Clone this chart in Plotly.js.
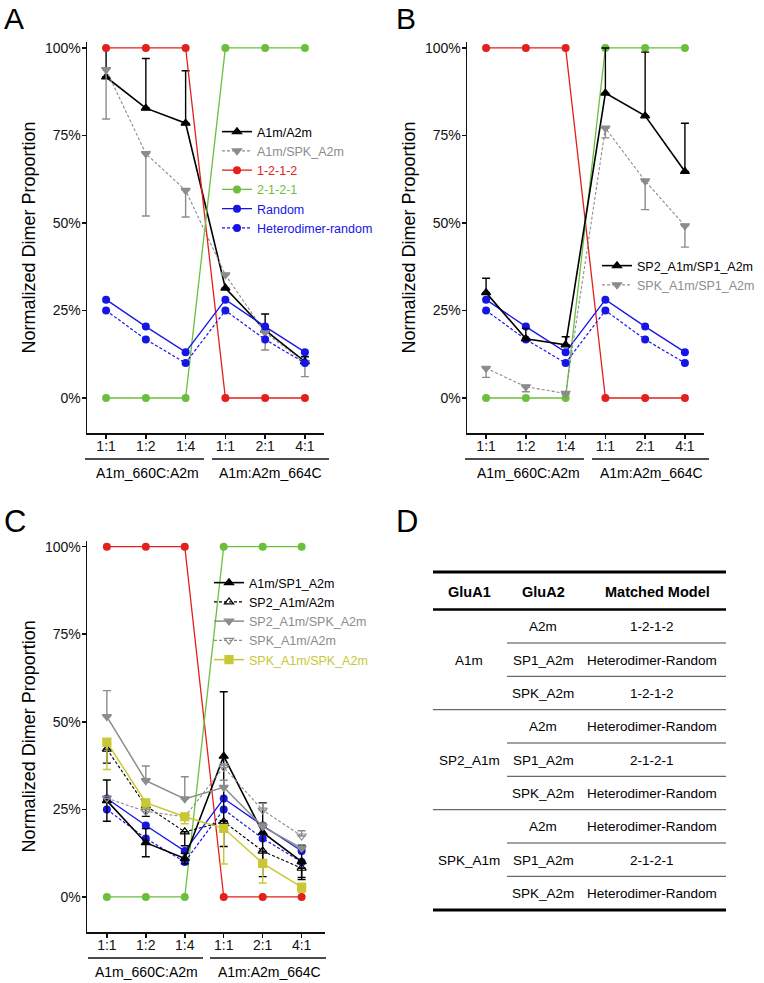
<!DOCTYPE html>
<html>
<head>
<meta charset="utf-8">
<script src="https://cdn.plot.ly/plotly-3.0.1.min.js"></script>
<style>html,body{margin:0;padding:0;background:#fff;}#chart{width:764px;height:983px;}</style>
</head>
<body>
<div id="chart"></div>
<script>
// ---------- data ----------
const categories = ['1:1', '1:2', '1:4', '1:1', '2:1', '4:1'];
const groupLabels = ['A1m_660C:A2m', 'A1m:A2m_664C'];
const yTickVals = [0, 25, 50, 75, 100];
const yTickText = ['0%', '25%', '50%', '75%', '100%'];

// model predictions
const model1212 = [100, 100, 100, 0, 0, 0];
const model2121 = [0, 0, 0, 100, 100, 100];
const modelRandom = [28.1, 20.4, 13.1, 28.1, 20.4, 13.1];
const modelHeteroRandom = [25, 16.7, 10, 25, 16.7, 10];

// panel A
const aA1mA2m = [91.7, 82.8, 78.5, 31.4, 19.4, 10.4];
const aA1mA2mErrUp = [8.3, 14.2, 15.0, 0, 4.6, 1.4];
const aA1mSpkA2m = [93.8, 69.8, 59.3, 35.2, 18.7, 10.1];
const aA1mSpkA2mErrDown = [14.1, 17.8, 7.6, 0, 5.0, 4.0];

// panel B
const bSp2Sp1 = [30.1, 16.9, 15.2, 87.1, 80.6, 64.7];
const bSp2Sp1ErrUp = [4.1, 3.0, 2.3, 12.9, 18.2, 13.8];
const bSpkSp1 = [8.5, 3.2, 1.3, 77.1, 62.0, 49.2];
const bSpkSp1ErrDown = [2.6, 1.4, 0.3, 2.8, 8.2, 6.1];

// panel C
const cA1mSp1 = [27.5, 15.5, 11.0, 40.2, 18.4, 10.1];
const cA1mSp1Err = [5.9, 4.0, 1.5, 18.4, 8.5, 4.5];
const cSp2A2m = [42.2, 26.0, 18.6, 21.5, 13.1, 8.2];
const cSp2A2mErrDown = [4.0, 3.0, 4.0, 7.1, 7.3, 3.2];
const cSp2Spk = [51.5, 33.2, 28.0, 31.3, 20.1, 13.9];
const cSp2SpkErrUp = [7.4, 4.2, 6.3, 2.0, 1.0, 1.0];
const cSpkA2m = [28.2, 24.4, 22.9, 37.0, 24.8, 17.4];
const cSpkA2mErrUp = [0, 0, 0, 1.0, 2.0, 1.5];
const cSpkSpk = [44.2, 26.9, 22.9, 19.6, 9.6, 2.8];
const cSpkSpkErrDown = [7.8, 1.5, 2.0, 10.2, 5.6, 1.5];

// table D
const tableGluA1 = ['A1m', 'SP2_A1m', 'SPK_A1m'];
const tableGluA2 = ['A2m', 'SP1_A2m', 'SPK_A2m', 'A2m', 'SP1_A2m', 'SPK_A2m', 'A2m', 'SP1_A2m', 'SPK_A2m'];
const tableModel = ['1-2-1-2', 'Heterodimer-Random', '1-2-1-2', 'Heterodimer-Random', '2-1-2-1',
                    'Heterodimer-Random', 'Heterodimer-Random', '2-1-2-1', 'Heterodimer-Random'];
const tableHeaders = ['GluA1', 'GluA2', 'Matched Model'];

// ---------- styling ----------
const FONT = 'Liberation Sans, Arial, sans-serif';
const W = 764, H = 983;
const px = v => v / W;
const py = v => 1 - v / H;
const RED = '#e3201b', GREEN = '#6cbf3c', BLUE = '#1515e8', GRAY = '#8c8c8c', YEL = '#c9c733';
const idx = categories.map((_, i) => i);
const lbl = (t, c) => '<span style="color:' + c + '">' + t + '</span>';

function modelTraces(xa, ya, show, legend) {
  const base = {x: idx, xaxis: xa, yaxis: ya, mode: 'lines+markers', showlegend: show, legend: legend, hoverinfo: 'skip'};
  return [
    Object.assign({}, base, {y: model1212, name: lbl('1-2-1-2', RED), line: {color: RED, width: 1.3}, marker: {symbol: 'circle', size: 8, color: RED}}),
    Object.assign({}, base, {y: model2121, name: lbl('2-1-2-1', GREEN), line: {color: GREEN, width: 1.3}, marker: {symbol: 'circle', size: 8, color: GREEN}}),
    Object.assign({}, base, {y: modelRandom, name: lbl('Random', BLUE), line: {color: BLUE, width: 1.3}, marker: {symbol: 'circle', size: 8, color: BLUE}}),
    Object.assign({}, base, {y: modelHeteroRandom, name: lbl('Heterodimer-random', BLUE), line: {color: BLUE, width: 1.2, dash: '3px,2px'}, marker: {symbol: 'circle', size: 8, color: BLUE}})
  ];
}

function series(xa, ya, y, name, color, lineDash, symbol, errPlus, errMinus, legend, width) {
  return {
    x: idx, y: y, xaxis: xa, yaxis: ya, mode: 'lines+markers', legend: legend,
    name: lbl(name, color),
    line: {color: color, width: width || 1.4, dash: lineDash},
    marker: {symbol: symbol, size: 8, color: color, line: {color: color, width: 1.2}},
    error_y: {type: 'data', symmetric: false, array: errPlus, arrayminus: errMinus, color: color, thickness: 1.4, width: 4}
  };
}

const zeros = [0, 0, 0, 0, 0, 0];
const traces = [];
// Panel A
traces.push(series('x', 'y', aA1mA2m, 'A1m/A2m', '#000', 'solid', 'triangle-up', aA1mA2mErrUp, zeros, 'legend', 1.6));
traces.push(series('x', 'y', aA1mSpkA2m, 'A1m/SPK_A2m', GRAY, '3px,2px', 'triangle-down', zeros, aA1mSpkA2mErrDown, 'legend', 1.1));
traces.push(...modelTraces('x', 'y', true, 'legend'));
// Panel B
traces.push(...modelTraces('x2', 'y2', false, 'legend2'));
traces.push(series('x2', 'y2', bSp2Sp1, 'SP2_A1m/SP1_A2m', '#000', 'solid', 'triangle-up', bSp2Sp1ErrUp, zeros, 'legend2', 1.6));
traces.push(series('x2', 'y2', bSpkSp1, 'SPK_A1m/SP1_A2m', GRAY, '3px,2px', 'triangle-down', zeros, bSpkSp1ErrDown, 'legend2', 1.1));
// Panel C
traces.push(...modelTraces('x3', 'y3', false, 'legend3'));
traces.push(series('x3', 'y3', cA1mSp1, 'A1m/SP1_A2m', '#000', 'solid', 'triangle-up', cA1mSp1Err, cA1mSp1Err, 'legend3', 1.6));
traces.push(series('x3', 'y3', cSp2A2m, 'SP2_A1m/A2m', '#000', '3px,2px', 'triangle-up-open', zeros, cSp2A2mErrDown, 'legend3', 1.1));
traces.push(series('x3', 'y3', cSp2Spk, 'SP2_A1m/SPK_A2m', GRAY, 'solid', 'triangle-down', cSp2SpkErrUp, zeros, 'legend3', 1.5));
traces.push(series('x3', 'y3', cSpkA2m, 'SPK_A1m/A2m', GRAY, '3px,2px', 'triangle-down-open', cSpkA2mErrUp, zeros, 'legend3', 1.1));
traces.push(series('x3', 'y3', cSpkSpk, 'SPK_A1m/SPK_A2m', YEL, 'solid', 'square', zeros, cSpkSpkErrDown, 'legend3', 1.5));

function xAxis(d0, d1, anchor, range) {
  return {domain: [px(d0), px(d1)], anchor: anchor, range: range, tickmode: 'array', tickvals: idx, ticktext: categories,
    showline: true, linecolor: '#111', linewidth: 1.5, ticks: 'outside', ticklen: 4, tickwidth: 1.5, tickcolor: '#111',
    ticklabelstandoff: -4,
    showgrid: false, zeroline: false, tickfont: {family: FONT, size: 14, color: '#111'}, fixedrange: true};
}
function yAxis(t0, t1, anchor) {
  return {domain: [py(t1), py(t0)], anchor: anchor, range: [-10, 101.7], tickmode: 'array', tickvals: yTickVals, ticktext: yTickText,
    showline: true, linecolor: '#111', linewidth: 1.5, ticks: 'outside', ticklen: 4, tickwidth: 1.5, tickcolor: '#111',
    ticklabelstandoff: -2,
    showgrid: false, zeroline: false, tickfont: {family: FONT, size: 14, color: '#111'},
    title: {text: 'Normalized Dimer Proportion', font: {family: FONT, size: 18, color: '#000'}, standoff: 4}, fixedrange: true};
}

const shapes = [];
const annotations = [];
function hline(x0, x1, y, w, c) {
  shapes.push({type: 'line', xref: 'paper', yref: 'paper', x0: px(x0), x1: px(x1), y0: py(y), y1: py(y), line: {color: c || '#111', width: w}});
}
function text(t, x, y, size, opts) {
  annotations.push(Object.assign({text: t, xref: 'paper', yref: 'paper', x: px(x), y: py(y), showarrow: false,
    xanchor: 'center', yanchor: 'middle', font: {family: FONT, size: size, color: '#000'}}, opts || {}));
}

// group brackets under x axes
[[85, 204, 212, 329, 459, 473, 147, 270], [465, 584, 592, 709, 459, 473, 528, 651], [88, 203, 210, 326, 958, 972, 146, 269]].forEach(g => {
  hline(g[0], g[1], g[4], 1.3);
  hline(g[2], g[3], g[4], 1.3);
  text(groupLabels[0], g[6], g[5], 14);
  text(groupLabels[1], g[7], g[5], 14);
});

// panel letters
text('A', 14, 0, 30, {yanchor: 'top'});
text('B', 406, 0, 30, {yanchor: 'top'});
text('C', 15, 521, 31);
text('D', 407, 521, 31);

// table D
const tL = 433, tR = 726, tMid = 507;
hline(tL, tR, 572, 3, '#000');
hline(tL, tR, 609.5, 2.5, '#000');
hline(tL, tR, 910, 3, '#000');
const rowLines = [643, 676.3, 709.7, 743, 776.3, 809.7, 843, 876.3];
rowLines.forEach((y, i) => {
  const full = (i === 2 || i === 5);
  hline(full ? tL : tMid, tR, y, 1, '#444');
});
text('<b>' + tableHeaders[0] + '</b>', 469, 592, 14.5);
text('<b>' + tableHeaders[1] + '</b>', 543, 592, 14.5);
text('<b>' + tableHeaders[2] + '</b>', 657, 592, 14.5);
const rowY0 = 626.7, rowH = 33.33;
tableGluA2.forEach((t, i) => text(t, 543, rowY0 + i * rowH, 13.5));
tableModel.forEach((t, i) => text(t, 652, rowY0 + i * rowH, 13.5));
tableGluA1.forEach((t, i) => text(t, 469, rowY0 + (3 * i + 1) * rowH, 13.5));

const legendBase = {bgcolor: 'rgba(0,0,0,0)', borderwidth: 0, font: {family: FONT, size: 12.5, color: '#000'},
  xanchor: 'left', yanchor: 'top', traceorder: 'normal', itemclick: false};

const layout = {
  width: W, height: H, margin: {l: 0, r: 0, t: 0, b: 0},
  paper_bgcolor: '#fff', plot_bgcolor: '#fff',
  font: {family: FONT, color: '#000'},
  xaxis: xAxis(87, 324, 'y', [-0.48, 5.48]),
  yaxis: yAxis(42, 433, 'x'),
  xaxis2: xAxis(467, 704, 'y2', [-0.48, 5.48]),
  yaxis2: yAxis(42, 433, 'x2'),
  xaxis3: xAxis(87, 325, 'y3', [-0.51, 5.6]),
  yaxis3: yAxis(540.7, 932, 'x3'),
  legend: Object.assign({}, legendBase, {x: px(217), y: py(117)}),
  legend2: Object.assign({}, legendBase, {x: px(597), y: py(251)}),
  legend3: Object.assign({}, legendBase, {x: px(209), y: py(568)}),
  shapes: shapes,
  annotations: annotations,
  showlegend: true
};

Plotly.newPlot('chart', traces, layout, {staticPlot: true, displayModeBar: false});
</script>
</body>
</html>
